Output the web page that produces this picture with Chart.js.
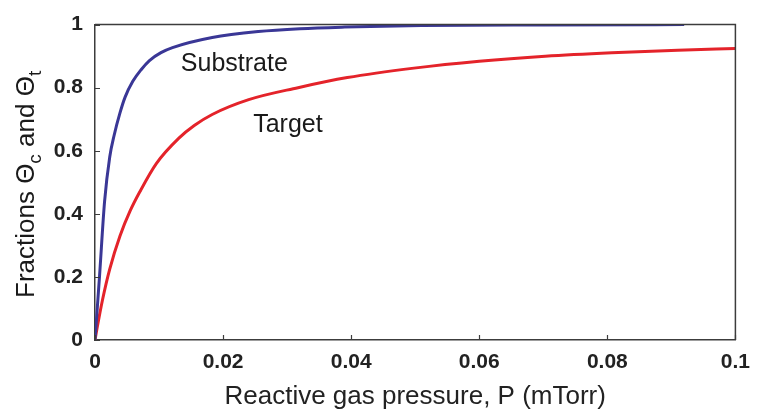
<!DOCTYPE html>
<html>
<head>
<meta charset="utf-8">
<script src="https://cdn.jsdelivr.net/npm/chart.js@4"></script>
<style>
  html, body { margin: 0; padding: 0; background: #fff; }
  #wrap { width: 760px; height: 412px; }
</style>
</head>
<body>
<div id="wrap"><canvas id="chartContainer" width="760" height="412"></canvas></div>
<script>
// Reactive gas pressure P (mTorr) and covered fractions
const substrateP = [0, 0.0007, 0.0015, 0.0023, 0.003, 0.0039, 0.0047, 0.0059, 0.0072, 0.0085, 0.0103, 0.0121, 0.0183, 0.0255, 0.032, 0.039, 0.051, 0.07, 0.092];
const substrateTheta = [0, 0.2, 0.44, 0.58, 0.65, 0.72, 0.77, 0.82, 0.857, 0.886, 0.911, 0.927, 0.959, 0.978, 0.987, 0.992, 0.997, 0.999, 1.0];

const targetP = [0, 0.0003, 0.0012, 0.0023, 0.0039, 0.0055, 0.007, 0.0096, 0.0131, 0.0155, 0.0183, 0.024, 0.0317, 0.0394, 0.0498, 0.06, 0.0703, 0.0807, 0.091, 0.1];
const targetTheta = [0, 0.035, 0.13, 0.225, 0.33, 0.41, 0.47, 0.56, 0.64, 0.68, 0.715, 0.762, 0.8, 0.832, 0.862, 0.884, 0.9, 0.911, 0.919, 0.924];

const xTicks = [0, 0.02, 0.04, 0.06, 0.08, 0.1];
const yTicks = [0, 0.2, 0.4, 0.6, 0.8, 1];

// curve labels, placed in data units
const curveLabels = [
    { text: 'Substrate', x: 0.0134, y: 0.854 },
    { text: 'Target', x: 0.0247, y: 0.658 }
];

const axisColor = '#3c3c3c';
const fontFamily = '"Liberation Sans", Arial, Helvetica, sans-serif';

function toPoints(xs, ys) {
    return xs.map((x, i) => ({ x: x, y: ys[i] }));
}

// frame, inward tick marks, curve labels and the y title with subscripts
const decorations = {
    id: 'decorations',
    afterDatasetsDraw(chart) {
        const ctx = chart.ctx;
        const area = chart.chartArea;
        const xs = chart.scales.x;
        const ys = chart.scales.y;

        ctx.save();
        ctx.strokeStyle = axisColor;
        ctx.lineWidth = 1.5;
        ctx.beginPath();
        ctx.moveTo(area.left, area.top);
        ctx.lineTo(area.right, area.top);
        ctx.lineTo(area.right, area.bottom);
        ctx.stroke();

        ctx.lineWidth = 1.2;
        ctx.beginPath();
        xTicks.forEach(v => {
            const px = Math.round(xs.getPixelForValue(v)) + 0.5;
            ctx.moveTo(px, area.bottom);
            ctx.lineTo(px, area.bottom - 5);
        });
        yTicks.forEach(v => {
            const py = Math.round(ys.getPixelForValue(v)) + 0.5;
            ctx.moveTo(area.left, py);
            ctx.lineTo(area.left + 5, py);
        });
        ctx.stroke();

        ctx.fillStyle = '#1a1a1a';
        ctx.font = '25px ' + fontFamily;
        ctx.textBaseline = 'alphabetic';
        ctx.textAlign = 'left';
        curveLabels.forEach(l => {
            ctx.fillText(l.text, xs.getPixelForValue(l.x), ys.getPixelForValue(l.y));
        });

        // y axis title, rotated, with subscripts
        const parts = [
            { t: 'Fractions ', sub: false },
            { t: 'Θ', sub: false },
            { t: 'c', sub: true },
            { t: ' and ', sub: false },
            { t: 'Θ', sub: false },
            { t: 't', sub: true }
        ];
        const big = '26px ' + fontFamily;
        const small = '19px ' + fontFamily;
        ctx.translate(34, 298);
        ctx.rotate(-Math.PI / 2);
        let pos = 0;
        parts.forEach(p => {
            ctx.font = p.sub ? small : big;
            ctx.fillText(p.t, pos, p.sub ? 7 : 0);
            pos += ctx.measureText(p.t).width;
        });
        ctx.restore();
    }
};

const ctxChart = document.getElementById('chartContainer').getContext('2d');
new Chart(ctxChart, {
    type: 'line',
    data: {
        datasets: [{
            label: 'Substrate',
            data: toPoints(substrateP, substrateTheta),
            borderColor: '#3a3796',
            borderWidth: 3,
            pointRadius: 0,
            cubicInterpolationMode: 'monotone',
            fill: false
        }, {
            label: 'Target',
            data: toPoints(targetP, targetTheta),
            borderColor: '#e4232a',
            borderWidth: 3,
            pointRadius: 0,
            cubicInterpolationMode: 'monotone',
            fill: false
        }]
    },
    options: {
        responsive: false,
        animation: false,
        events: [],
        layout: { padding: { left: 0, top: 24, right: 18, bottom: 0 } },
        plugins: {
            legend: { display: false },
            tooltip: { enabled: false }
        },
        scales: {
            x: {
                type: 'linear',
                min: 0,
                max: 0.1,
                afterFit(scale) { scale.height = 72; },
                afterBuildTicks(scale) { scale.ticks = xTicks.map(v => ({ value: v })); },
                grid: { display: false, drawTicks: false },
                border: { display: true, color: axisColor, width: 1.5 },
                ticks: {
                    padding: 10,
                    color: '#222',
                    font: { family: fontFamily, size: 21, weight: 'bold' },
                    callback: v => String(+v.toFixed(2))
                },
                title: {
                    display: true,
                    text: 'Reactive gas pressure, P (mTorr)',
                    color: '#222',
                    padding: { top: 0, bottom: 0 },
                    font: { family: fontFamily, size: 26 }
                }
            },
            y: {
                min: 0,
                max: 1,
                afterFit(scale) { scale.width = 95; },
                afterBuildTicks(scale) { scale.ticks = yTicks.map(v => ({ value: v })); },
                grid: { display: false, drawTicks: false },
                border: { display: true, color: axisColor, width: 1.5 },
                ticks: {
                    padding: 12,
                    color: '#222',
                    font: { family: fontFamily, size: 21, weight: 'bold' },
                    callback: v => String(+v.toFixed(1))
                }
            }
        }
    },
    plugins: [decorations]
});
</script>
</body>
</html>
